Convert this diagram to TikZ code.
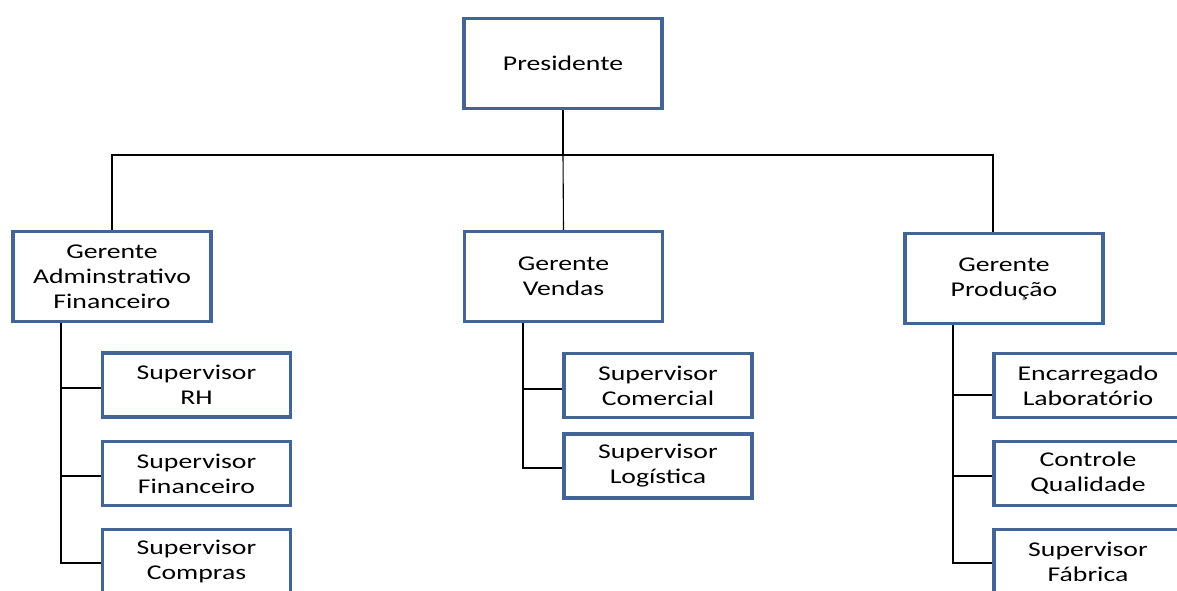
\documentclass[tikz,border=0pt]{standalone}
\usepackage{fontspec}
\setmainfont{Carlito}[FakeStretch=1.32]
\begin{document}
\begin{tikzpicture}[x=1pt,y=-1pt,
  every node/.style={font=\fontsize{21}{25}\selectfont, align=center, inner sep=0pt},
  box/.style={draw=boxblue, line width=3.2pt, fill=white, minimum width=#1},
  big/.style={box=198pt, minimum height=90pt},
  small/.style={box=188pt, minimum height=64pt},
  link/.style={draw=black, line width=1.1pt},
  spine/.style={draw=black, line width=1.8pt}]
\definecolor{boxblue}{RGB}{66,101,150}
\useasboundingbox (0,0) rectangle (1177,590);
\clip (0,0) rectangle (1177,590);

% top level
\node[big] (pres) at (563,63.5) {Presidente};

% managers
\node[big] (ga) at (112,276.5) {Gerente\\Adminstrativo\\Financeiro};
\node[big] (gv) at (563.5,276.5) {Gerente\\Vendas};
\node[big] (gp) at (1004,278.5) {Gerente\\Produção};

% supervisors under administration/finance
\node[small] (rh)  at (196.5,385)   {Supervisor\\RH};
\node[small] (fin) at (196.5,473.5) {Supervisor\\Financeiro};
\node[small] (com) at (196.5,561.5) {Supervisor\\Compras};

% supervisors under sales
\node[small] (cml) at (658,385.5) {Supervisor\\Comercial};
\node[small] (log) at (658,466)   {Supervisor\\Logística};

% supervisors under production
\node[small] (lab) at (1088,385.5) {Encarregado\\Laboratório};
\node[small] (cq)  at (1088,473.5) {Controle\\Qualidade};
\node[small] (fab) at (1088,561.5) {Supervisor\\Fábrica};

% bus from the president to the managers
\coordinate (bus) at (0,155);
\coordinate (gpdrop) at ([xshift=-11pt]gp.north);
\draw[spine] (pres.south) -- (pres.south |- bus);
\draw[link] (pres.south |- bus) -- (gv.north);
\draw[link] (ga.north) -- (ga.north |- bus) -- (gpdrop |- bus) -- (gpdrop);

% administration/finance branch
\coordinate (ga0) at ([xshift=-51pt]ga.south);
\draw[link] (ga0) |- ([yshift=-3pt]rh.west);
\draw[link] (ga0) |- ([yshift=-2.5pt]fin.west);
\draw[link] (ga0) |- ([yshift=-1.5pt]com.west);

% sales branch
\coordinate (gv0) at ([xshift=-40.5pt]gv.south);
\draw[link] (gv0) |- ([yshift=-3.5pt]cml.west);
\draw[link] (gv0) |- ([yshift=-2pt]log.west);

% production branch
\coordinate (gp0) at ([xshift=-51pt]gp.south);
\draw[link] (gp0) |- ([yshift=-9.5pt]lab.west);
\draw[link] (gp0) |- ([yshift=-2.5pt]cq.west);
\draw[link] (gp0) |- ([yshift=-1.5pt]fab.west);
\end{tikzpicture}
\end{document}
